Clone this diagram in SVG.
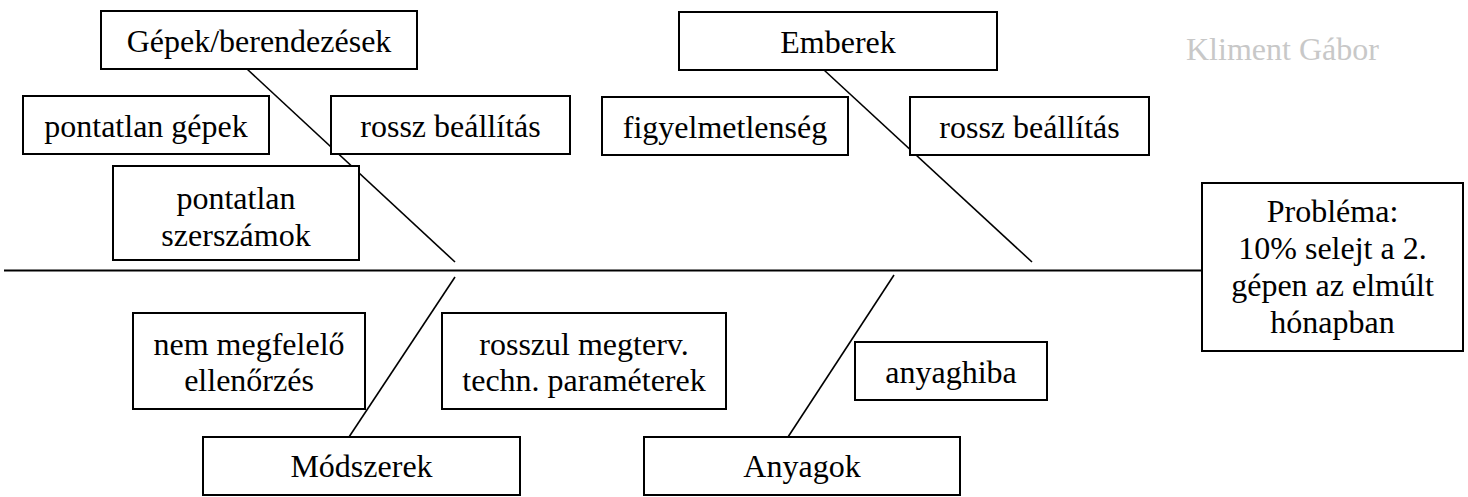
<svg xmlns="http://www.w3.org/2000/svg" width="1468" height="497" viewBox="0 0 1468 497">
  <style>
    .box { fill: #fff; stroke: #000; stroke-width: 2; }
    .lbl { font-family: 'Liberation Serif', 'Times New Roman', Times, 'DejaVu Serif', serif; font-size: 32px; fill: #000; text-anchor: middle; }
    .bone { stroke: #000; stroke-width: 1.6; fill: none; }
    .spine { stroke: #000; stroke-width: 2.2; fill: none; }
    .author { font-family: 'Liberation Serif', 'Times New Roman', Times, 'DejaVu Serif', serif; font-size: 32px; fill: #c8c8c8; }
  </style>
  <rect width="1468" height="497" fill="#fff"/>

  <!-- fishbone spine and ribs -->
  <g id="connectors">
    <line class="spine" x1="4" y1="270.5" x2="1203" y2="270.5"/>
    <line class="bone" x1="247" y1="69" x2="455" y2="262"/>
    <line class="bone" x1="824" y1="70" x2="1032" y2="262"/>
    <line class="bone" x1="455" y1="277" x2="349" y2="437"/>
    <line class="bone" x1="894" y1="275" x2="788" y2="437"/>
  </g>

  <!-- main categories -->
  <g id="cat-gepek">
    <rect class="box" x="101" y="11" width="316" height="58"/>
    <text class="lbl" x="259" y="52" font-family="Liberation Serif, serif">Gépek/berendezések</text>
  </g>
  <g id="cat-emberek">
    <rect class="box" x="679" y="12" width="318" height="58"/>
    <text class="lbl" x="838" y="53">Emberek</text>
  </g>
  <g id="cat-modszerek">
    <rect class="box" x="203" y="437" width="317" height="58"/>
    <text class="lbl" x="361.5" y="477">Módszerek</text>
  </g>
  <g id="cat-anyagok">
    <rect class="box" x="644" y="437" width="316" height="58"/>
    <text class="lbl" x="802" y="477">Anyagok</text>
  </g>

  <!-- causes -->
  <g id="cause-pontatlan-gepek">
    <rect class="box" x="23" y="96" width="246" height="58"/>
    <text class="lbl" x="146" y="137">pontatlan gépek</text>
  </g>
  <g id="cause-rossz-beallitas-1">
    <rect class="box" x="331" y="96" width="239" height="58"/>
    <text class="lbl" x="450.5" y="137">rossz beállítás</text>
  </g>
  <g id="cause-pontatlan-szerszamok">
    <rect class="box" x="113" y="166" width="246" height="94"/>
    <text class="lbl" x="236" y="209">pontatlan</text>
    <text class="lbl" x="236" y="246">szerszámok</text>
  </g>
  <g id="cause-figyelmetlenseg">
    <rect class="box" x="602" y="97" width="246" height="58"/>
    <text class="lbl" x="725" y="138">figyelmetlenség</text>
  </g>
  <g id="cause-rossz-beallitas-2">
    <rect class="box" x="910" y="97" width="239" height="58"/>
    <text class="lbl" x="1029.5" y="138">rossz beállítás</text>
  </g>
  <g id="cause-ellenorzes">
    <rect class="box" x="133" y="313" width="232" height="96"/>
    <text class="lbl" x="249" y="355">nem megfelelő</text>
    <text class="lbl" x="249" y="391">ellenőrzés</text>
  </g>
  <g id="cause-parameterek">
    <rect class="box" x="442" y="313" width="284" height="96"/>
    <text class="lbl" x="584" y="355">rosszul megterv.</text>
    <text class="lbl" x="584" y="391">techn. paraméterek</text>
  </g>
  <g id="cause-anyaghiba">
    <rect class="box" x="855" y="342" width="192" height="58"/>
    <text class="lbl" x="951" y="383">anyaghiba</text>
  </g>

  <!-- effect -->
  <g id="problem">
    <rect class="box" x="1202" y="183" width="261" height="168"/>
    <text class="lbl" x="1332.5" y="222">Probléma:</text>
    <text class="lbl" x="1332.5" y="259">10% selejt a 2.</text>
    <text class="lbl" x="1332.5" y="296">gépen az elmúlt</text>
    <text class="lbl" x="1332.5" y="333">hónapban</text>
  </g>

  <text class="author" x="1186" y="60">Kliment Gábor</text>
</svg>
